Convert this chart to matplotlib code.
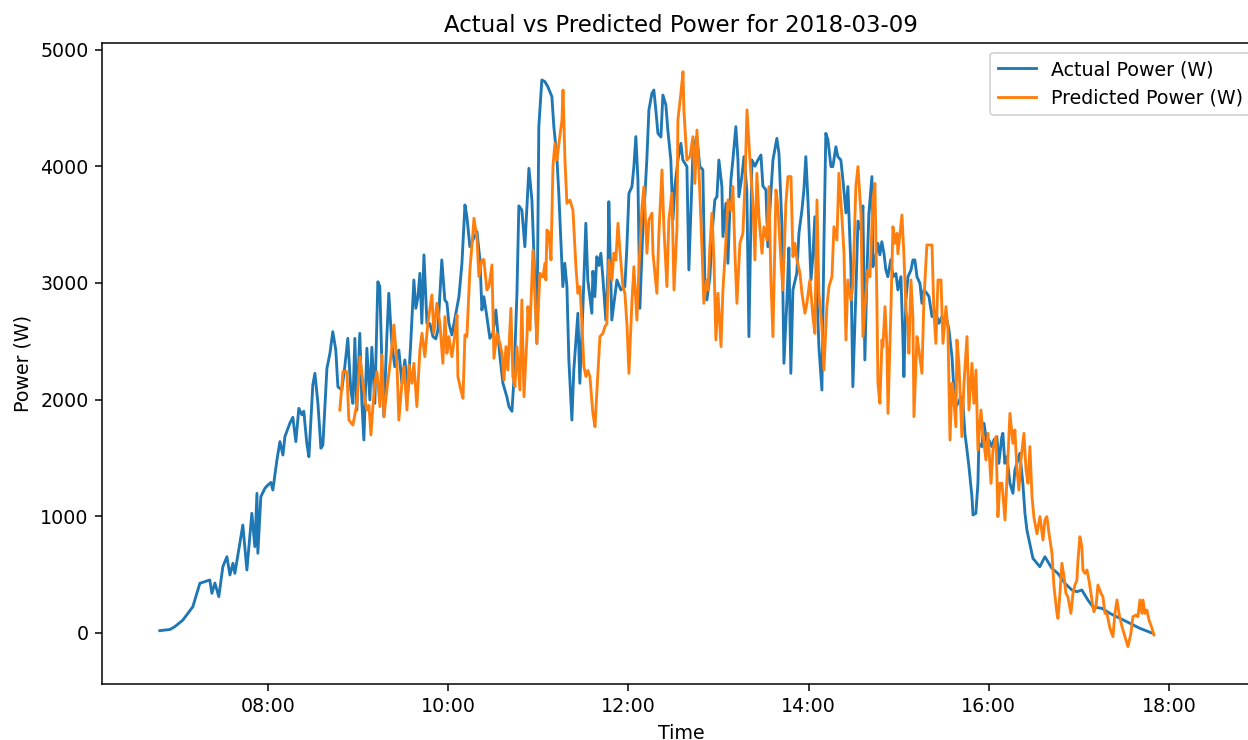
import matplotlib
matplotlib.use('Agg')
import matplotlib.pyplot as plt
import matplotlib.dates as mdates
import pandas as pd

day = pd.Timestamp('2018-03-09')

# minutes after midnight and measured power (W)
actual_min = [
    408.0, 414.7, 418.0, 423.4, 430.0, 434.7, 441.3, 442.7, 444.7, 447.3,
    450.0, 452.7, 454.7, 456.7, 458.0, 463.3, 466.0, 469.3, 471.3, 472.7,
    473.3, 475.3, 478.0, 480.0, 482.0, 483.3, 486.0, 488.0, 490.0, 491.3,
    494.6, 496.6, 498.6, 500.6, 502.6, 503.9, 505.9, 507.3, 509.9, 511.3,
    513.3, 515.3, 516.6, 519.3, 521.3, 523.2, 525.2, 526.6, 529.2, 531.2,
    533.2, 535.2, 536.6, 537.9, 539.2, 541.2, 542.6, 543.9, 545.9, 547.9,
    549.2, 551.2, 553.2, 554.5, 555.9, 557.2, 559.2, 560.5, 562.5, 564.5,
    567.2, 569.2, 571.2, 573.2, 575.2, 577.2, 578.5, 579.9, 581.2, 582.5,
    583.9, 585.9, 587.9, 589.9, 591.8, 593.2, 595.8, 597.8, 599.2, 600.5,
    602.5, 605.2, 607.2, 609.2, 611.2, 612.5, 614.5, 616.5, 619.2, 621.2,
    622.5, 623.8, 625.8, 627.8, 629.8, 631.8, 634.5, 636.5, 639.1, 640.5,
    642.5, 643.8, 645.8, 647.1, 649.1, 651.1, 653.8, 655.8, 657.1, 659.1,
    660.4, 662.4, 664.4, 666.4, 669.1, 670.4, 672.4, 673.7, 675.7, 676.4,
    677.7, 679.1, 680.4, 682.4, 683.7, 686.4, 687.7, 689.7, 691.7, 693.0,
    695.7, 696.4, 697.7, 699.0, 700.4, 701.7, 703.0, 705.0, 706.4, 707.0,
    709.0, 712.4, 715.0, 717.7, 719.0, 720.4, 722.4, 723.7, 725.0, 726.4,
    727.7, 729.7, 731.0, 732.3, 733.7, 735.7, 737.0, 738.3, 739.7, 741.7,
    743.0, 745.0, 746.3, 748.3, 749.7, 751.0, 753.0, 755.0, 756.3, 759.0,
    760.3, 763.0, 764.3, 765.6, 767.6, 769.6, 771.0, 772.3, 774.3, 776.3,
    777.6, 779.0, 780.3, 782.3, 783.0, 785.0, 786.3, 788.3, 789.6, 791.6,
    793.0, 793.6, 795.6, 797.0, 798.9, 800.3, 802.3, 804.3, 806.3, 808.3,
    809.6, 811.6, 812.9, 814.9, 816.3, 818.9, 820.3, 822.3, 823.6, 825.6,
    826.9, 828.2, 829.6, 832.2, 833.6, 835.6, 836.9, 838.2, 839.6, 841.6,
    842.9, 844.2, 845.6, 846.9, 848.9, 850.2, 851.5, 852.9, 854.9, 856.2,
    858.2, 859.5, 861.5, 862.9, 864.9, 866.2, 868.2, 869.5, 871.5, 872.9,
    874.9, 876.2, 877.5, 878.9, 880.2, 882.2, 882.8, 884.2, 886.2, 887.5,
    888.8, 890.2, 891.5, 892.8, 894.8, 896.2, 898.2, 899.5, 901.5, 902.8,
    903.5, 904.8, 906.2, 908.2, 909.5, 910.8, 912.2, 914.2, 915.5, 916.8,
    918.8, 920.2, 922.2, 923.5, 925.5, 926.8, 928.8, 930.1, 932.1, 933.5,
    935.5, 936.8, 938.1, 939.5, 941.5, 942.8, 944.1, 945.5, 946.8, 948.8,
    949.5, 951.4, 952.8, 953.4, 955.4, 956.8, 958.8, 960.1, 962.1, 963.4,
    965.4, 966.7, 968.7, 969.4, 970.7, 972.1, 974.1, 976.1, 977.4, 978.7,
    980.7, 982.7, 984.1, 985.4, 989.4, 994.0, 997.4, 1002.0, 1006.0, 1010.7,
    1015.4, 1018.7, 1022.0, 1026.0, 1029.3, 1035.3, 1040.7, 1047.3, 1054.0, 1060.6,
    1068.6,
]
actual_w = [
    20, 30, 54, 111, 225, 426, 454, 340, 428, 311,
    568, 654, 497, 597, 511, 925, 540, 1026, 740, 1197,
    683, 1168, 1240, 1268, 1290, 1225, 1482, 1640, 1525, 1682,
    1797, 1848, 1640, 1925, 1870, 1900, 1625, 1511, 2125, 2225,
    1968, 1583, 1610, 2268, 2397, 2582, 2425, 2110, 2082, 2282,
    2525, 2082, 1968, 2525, 1911, 2568, 1968, 1654, 2440, 1997,
    2448, 1968, 3010, 2970, 2311, 1854, 2540, 2911, 2482, 2282,
    2425, 2140, 2340, 2054, 2511, 3025, 2782, 2880, 3082, 2654,
    3240, 2654, 2650, 2540, 2520, 2597, 3197, 2854, 2830, 2654,
    2554, 2740, 2882, 3168, 3668, 3568, 3310, 3368, 3439, 3197,
    2768, 2882, 2711, 2525, 2568, 2768, 2368, 2140, 2025, 1940,
    1900, 2168, 2900, 3660, 3625, 3310, 3982, 3711, 3254, 2482,
    4339, 4739, 4725, 4682, 4596, 4339, 4082, 3768, 3168, 2968,
    3168, 2968, 2340, 1825, 2254, 2740, 2140, 2768, 3511, 3025,
    2740, 3100, 2883, 3225, 3150, 3254, 3054, 2682, 3100, 3696,
    2682, 3025, 2940, 2968, 3300, 3768, 3825, 3997, 4254, 3882,
    2782, 3482, 3740, 4053, 4482, 4625, 4653, 4482, 4282, 4250,
    4610, 4525, 4310, 4053, 3539, 3825, 4053, 4196, 4053, 3997,
    3111, 4111, 4196, 4253, 3997, 3970, 2968, 2854, 3050, 3511,
    3711, 3740, 4053, 3826, 3397, 3682, 3168, 3882, 4053, 4339,
    4053, 3739, 3910, 4082, 3797, 2540, 4053, 4000, 4053, 4096,
    3830, 3797, 3310, 3770, 4053, 4239, 4110, 3482, 2311, 2854,
    3300, 2225, 2940, 3085, 3425, 3625, 3797, 4082, 3710, 3025,
    3230, 3567, 2911, 2453, 2082, 3300, 4282, 4225, 3997, 3997,
    4167, 4082, 4053, 3882, 3600, 3826, 3139, 2111, 2911, 3530,
    3453, 3660, 2340, 3100, 3597, 3911, 3139, 3200, 3339, 3240,
    3353, 3253, 3111, 3053, 3200, 3053, 3080, 2940, 3053, 2540,
    2197, 2850, 3053, 3110, 3197, 3197, 3053, 2995, 2825, 2940,
    2911, 2882, 2711, 2768, 2711, 2654, 2711, 2654, 2682, 2597,
    2368, 2082, 1940, 1968, 2025, 1968, 1711, 1568, 1425, 1168,
    1011, 1025, 1283, 1625, 1597, 1797, 1625, 1654, 1597, 1654,
    1682, 1454, 1682, 1711, 1454, 1511, 1283, 1197, 1397, 1454,
    1540, 1283, 1025, 883, 640, 568, 654, 554, 511, 426,
    368, 354, 368, 283, 225, 211, 168, 126, 83, 40,
    0,
]

# minutes after midnight and model output (W)
pred_min = [
    527.9, 530.0, 532.6, 533.9, 536.6, 539.3, 541.3, 542.6, 544.6, 545.9,
    547.3, 548.6, 549.9, 551.2, 552.6, 554.6, 555.9, 557.3, 559.2, 561.9,
    563.9, 565.9, 567.2, 569.2, 570.6, 572.6, 573.9, 575.9, 577.2, 578.6,
    579.2, 581.2, 582.6, 584.5, 586.5, 589.2, 590.5, 592.5, 594.5, 596.5,
    597.9, 599.2, 600.5, 602.5, 604.5, 605.9, 606.5, 608.5, 609.9, 611.2,
    612.5, 614.5, 616.5, 617.2, 619.2, 620.5, 622.5, 623.8, 625.8, 627.2,
    629.2, 630.5, 632.5, 634.5, 635.8, 637.2, 638.5, 639.8, 641.8, 643.1,
    644.5, 645.8, 647.8, 649.1, 650.5, 652.5, 653.1, 654.5, 656.5, 657.8,
    659.1, 661.1, 663.1, 664.5, 665.1, 665.8, 667.1, 668.5, 669.8, 671.1,
    672.5, 673.8, 675.8, 676.5, 677.8, 679.1, 681.1, 683.1, 685.1, 686.4,
    687.8, 689.1, 690.4, 691.8, 693.1, 694.4, 696.4, 697.8, 699.1, 701.1,
    703.1, 704.4, 705.7, 707.1, 709.1, 710.4, 711.7, 713.1, 714.4, 716.4,
    717.7, 719.1, 720.4, 722.4, 723.7, 725.7, 727.1, 729.1, 730.4, 732.4,
    733.7, 735.7, 736.4, 739.0, 740.4, 742.4, 743.7, 745.7, 747.0, 749.0,
    750.4, 752.4, 753.0, 755.0, 756.4, 757.0, 759.0, 761.0, 763.0, 764.3,
    765.7, 767.0, 769.0, 770.3, 772.3, 773.0, 774.3, 775.7, 777.0, 778.3,
    779.7, 781.7, 783.0, 785.0, 786.3, 788.3, 789.6, 791.0, 792.3, 794.3,
    796.3, 797.6, 799.0, 801.0, 803.0, 804.3, 805.6, 807.0, 809.0, 810.3,
    812.3, 813.6, 815.0, 816.3, 818.3, 819.6, 821.6, 822.9, 824.9, 826.3,
    828.3, 829.6, 830.9, 832.3, 834.3, 835.6, 837.6, 838.9, 840.9, 842.9,
    844.2, 845.6, 846.9, 848.9, 850.2, 852.2, 853.6, 855.6, 856.9, 858.9,
    860.2, 862.2, 863.6, 864.9, 866.2, 868.2, 869.5, 871.5, 872.9, 874.9,
    876.2, 878.2, 879.5, 880.9, 882.9, 884.2, 885.5, 886.2, 887.5, 888.9,
    889.5, 890.9, 892.2, 892.9, 894.9, 896.2, 897.5, 898.9, 899.5, 900.9,
    902.2, 903.5, 904.9, 906.2, 906.8, 908.2, 909.5, 910.2, 912.2, 913.5,
    915.5, 916.8, 918.8, 920.2, 922.2, 923.5, 924.8, 926.2, 928.2, 929.5,
    931.5, 932.8, 934.2, 935.5, 936.2, 938.1, 938.8, 940.1, 942.1, 943.5,
    945.5, 946.8, 948.8, 950.1, 951.5, 952.8, 954.8, 956.1, 958.1, 959.5,
    961.5, 962.8, 964.8, 966.1, 967.4, 968.8, 970.8, 972.1, 974.1, 976.1,
    977.4, 978.8, 980.1, 981.4, 983.4, 984.8, 986.1, 987.4, 988.8, 990.1,
    992.1, 994.1, 996.1, 997.4, 998.7, 1000.1, 1002.1, 1003.4, 1005.4, 1006.1,
    1007.4, 1008.7, 1010.1, 1011.4, 1012.7, 1014.7, 1016.1, 1017.4, 1018.7, 1019.4,
    1020.7, 1022.0, 1022.7, 1024.0, 1025.4, 1026.7, 1028.7, 1030.0, 1031.4, 1032.7,
    1034.7, 1036.0, 1037.4, 1038.7, 1040.7, 1042.7, 1044.0, 1045.4, 1046.7, 1048.7,
    1050.7, 1052.7, 1054.7, 1056.0, 1058.0, 1059.3, 1060.7, 1062.0, 1062.7, 1064.0,
    1065.3, 1066.7, 1068.7, 1070.0,
]
pred_w = [
    1911, 2240, 2240, 1825, 1782, 1968, 2368, 2225, 1997, 1911,
    1950, 1697, 1940, 2140, 2240, 1940, 2382, 1854, 2082, 2368,
    2640, 2311, 1825, 2140, 2282, 1911, 2297, 2140, 2311, 2054,
    1940, 2425, 2568, 2368, 2654, 2897, 2568, 2825, 2654, 2311,
    2711, 2397, 2540, 2368, 2554, 2725, 2197, 2082, 2011, 2554,
    2540, 3111, 3425, 3554, 3382, 3054, 3197, 3200, 2940, 2970,
    3154, 2354, 2568, 2482, 2400, 2168, 2454, 2254, 2782, 2200,
    2111, 2454, 2082, 2854, 2025, 2540, 2797, 2597, 3282, 2911,
    2482, 3082, 3050, 3168, 3025, 3453, 3430, 3197, 3997, 4196,
    4053, 4196, 4396, 4653, 4053, 3682, 3710, 3625, 3139, 2911,
    2968, 2654, 2282, 2197, 2250, 2197, 1882, 1768, 2082, 2540,
    2568, 2625, 2650, 3197, 3025, 3254, 3197, 3511, 3280, 2968,
    2911, 2640, 2225, 2840, 3139, 2682, 3139, 3653, 3825, 3254,
    3540, 3597, 3254, 2911, 3440, 3968, 3468, 2968, 3540, 3768,
    2940, 3468, 4396, 4625, 4810, 4482, 4053, 4082, 4253, 3853,
    4310, 3970, 3310, 2825, 3025, 2940, 3310, 3597, 3197, 2511,
    2911, 2454, 2940, 3368, 3711, 3620, 3825, 3250, 2825, 3340,
    3425, 3825, 4482, 4053, 3680, 3197, 3939, 3565, 3254, 3480,
    3368, 3825, 3000, 2540, 3797, 3654, 3197, 2940, 3680, 3911,
    3911, 3225, 3339, 3197, 3082, 2911, 2740, 2825, 3025, 2711,
    2568, 3711, 2911, 2625, 2254, 2797, 2968, 3054, 3482, 3368,
    3939, 3568, 3254, 2511, 3025, 2854, 2968, 3825, 3997, 3597,
    2540, 2911, 3110, 3053, 3711, 3853, 2854, 2140, 1968, 2511,
    2450, 2797, 2450, 1882, 2797, 3482, 3340, 3425, 3250, 3425,
    3582, 3239, 2768, 2654, 2397, 3025, 2700, 1854, 2540, 2425,
    2225, 2854, 3325, 3325, 3325, 2740, 2482, 3025, 3025, 2482,
    2797, 2597, 1654, 2140, 2082, 1768, 2511, 2311, 1682, 2140,
    2540, 1911, 2311, 1968, 2254, 1568, 1911, 1711, 1483, 1711,
    1282, 1568, 1682, 997, 1283, 1283, 969, 1311, 1882, 1625,
    1740, 1397, 1225, 1482, 1711, 1397, 1283, 1597, 1168, 990,
    850, 997, 797, 968, 997, 855, 683, 400, 168, 125,
    340, 597, 483, 340, 311, 168, 340, 411, 454, 625,
    825, 740, 540, 511, 540, 454, 283, 183, 226, 411,
    340, 311, 168, 168, 40, -32, 168, 283, 168, 54,
    -32, -117, 0, 140, 154, 140, 283, 168, 283, 168,
    197, 111, 40, -17,
]

actual_time = day + pd.to_timedelta(actual_min, unit='min')
pred_time = day + pd.to_timedelta(pred_min, unit='min')

fig = plt.figure(figsize=(1248 / 137, 740 / 137), dpi=137)
ax = fig.add_axes([0.0817, 0.0757, 0.9279, 0.8662])

ax.plot(actual_time, actual_w, label='Actual Power (W)')
ax.plot(pred_time, pred_w, label='Predicted Power (W)')

ax.set_title('Actual vs Predicted Power for 2018-03-09')
ax.set_xlabel('Time')
ax.set_ylabel('Power (W)')
ax.legend(loc='upper right')

ax.xaxis.set_major_locator(mdates.HourLocator(byhour=range(0, 24, 2)))
ax.xaxis.set_major_formatter(mdates.DateFormatter('%H:%M'))
ax.set_xlim(day + pd.Timedelta(minutes=369.5), day + pd.Timedelta(minutes=1140.6))
ax.set_ylim(-437, 5056)

fig.savefig('out.png', dpi=137)
